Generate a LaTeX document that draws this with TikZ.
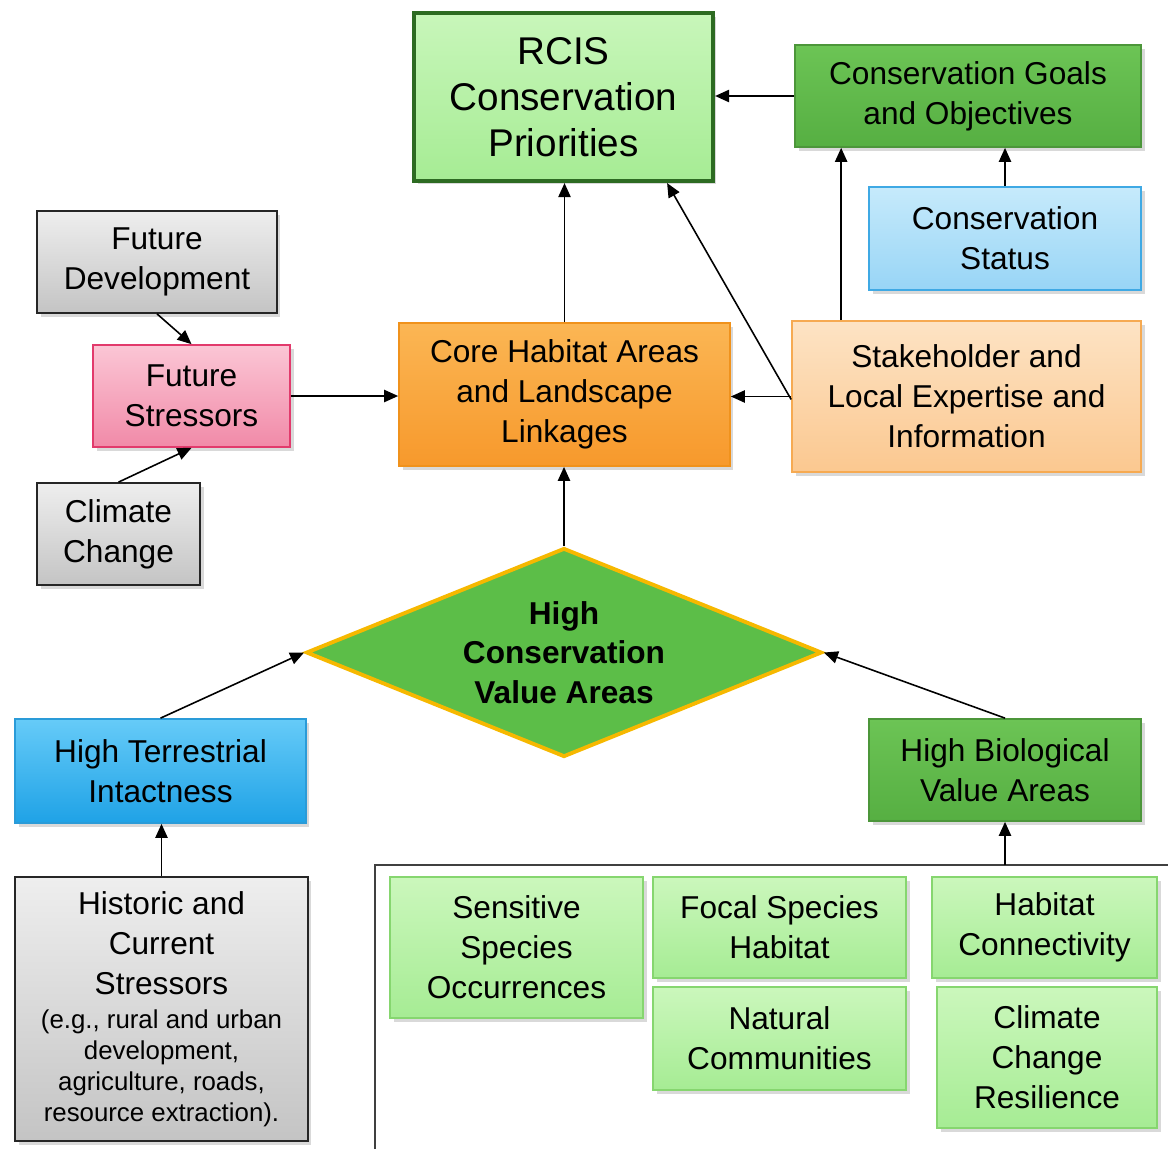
\documentclass[tikz,border=0pt]{standalone}
\usepackage{fontspec}
\setmainfont{Liberation Sans}
\usetikzlibrary{arrows.meta,positioning,shapes.geometric,shadows}

\definecolor{rcisTop}{HTML}{C8F6BA}
\definecolor{rcisBot}{HTML}{A6EC94}
\definecolor{rcisLine}{HTML}{2D6B22}
\definecolor{goalTop}{HTML}{6CC455}
\definecolor{goalBot}{HTML}{56AF42}
\definecolor{goalLine}{HTML}{4C963A}
\definecolor{statTop}{HTML}{C6EAFB}
\definecolor{statBot}{HTML}{98D5F6}
\definecolor{statLine}{HTML}{3FA9E4}
\definecolor{greyTop}{HTML}{EEEEEE}
\definecolor{greyBot}{HTML}{C4C4C4}
\definecolor{pinkTop}{HTML}{FBC6D5}
\definecolor{pinkBot}{HTML}{F18AA8}
\definecolor{pinkLine}{HTML}{E23A6C}
\definecolor{coreTop}{HTML}{FBB654}
\definecolor{coreBot}{HTML}{F7992C}
\definecolor{coreLine}{HTML}{F0921C}
\definecolor{stakeTop}{HTML}{FDE3C4}
\definecolor{stakeBot}{HTML}{FBC890}
\definecolor{stakeLine}{HTML}{F6AA52}
\definecolor{cvaFill}{HTML}{5CBE48}
\definecolor{cvaLine}{HTML}{F6B800}
\definecolor{htiTop}{HTML}{66CBF8}
\definecolor{htiBot}{HTML}{1FA2E6}
\definecolor{htiLine}{HTML}{2A9BD8}
\definecolor{leafTop}{HTML}{CBF7BC}
\definecolor{leafBot}{HTML}{A6EC94}
\definecolor{leafLine}{HTML}{86D66F}

\begin{document}
\begin{tikzpicture}[
    x=0.02cm, y=-0.02cm,
    box/.style={rectangle, draw, line width=1pt, align=center, inner sep=2pt,
        font=\fontsize{18}{22.8}\selectfont,
        drop shadow={opacity=0.3, shadow xshift=2pt, shadow yshift=-2pt}},
    greybox/.style={box, draw=black!85, top color=greyTop, bottom color=greyBot},
    darkgreen/.style={box, draw=goalLine, top color=goalTop, bottom color=goalBot},
    leaf/.style={box, draw=leafLine, top color=leafTop, bottom color=leafBot},
    arrow/.style={-{Triangle[length=8pt, width=7pt]}, line width=0.9pt}
]
\useasboundingbox (0,0) rectangle (1168,1149);

% Top row
\node[box, line width=2.4pt, draw=rcisLine, top color=rcisTop, bottom color=rcisBot,
      minimum width=5.98cm, minimum height=3.36cm,
      font=\fontsize{22}{26.2}\selectfont] (rcis) at (563.5,97)
    {RCIS\\Conservation\\Priorities};

\node[darkgreen, minimum width=6.92cm, minimum height=2.04cm] (goals) at (968,96)
    {Conservation Goals\\and Objectives};

\node[box, draw=statLine, top color=statTop, bottom color=statBot,
      minimum width=5.44cm, minimum height=2.06cm] (status) at (1005,238.5)
    {Conservation\\Status};

% Future stressors
\node[greybox, minimum width=4.8cm, minimum height=2.04cm] (futdev) at (157,262)
    {Future\\Development};

\node[box, draw=pinkLine, top color=pinkTop, bottom color=pinkBot,
      minimum width=3.94cm, minimum height=2.04cm] (futstr) at (191.5,396)
    {Future\\Stressors};

\node[greybox, minimum width=3.26cm, minimum height=2.04cm] (climate) at (118.5,534)
    {Climate\\Change};

% Middle row
\node[box, draw=coreLine, top color=coreTop, bottom color=coreBot,
      minimum width=6.62cm, minimum height=2.86cm] (core) at (564.5,394.5)
    {Core Habitat Areas\\and Landscape\\Linkages};

\node[box, draw=stakeLine, top color=stakeTop, bottom color=stakeBot,
      minimum width=6.98cm, minimum height=3.02cm] (stake) at (966.5,396.5)
    {Stakeholder and\\Local Expertise and\\Information};

\node[diamond, draw=cvaLine, line width=2.2pt, fill=cvaFill, aspect=2.47, inner sep=0pt,
      minimum width=10.32cm, minimum height=4.18cm, align=center,
      font=\bfseries\fontsize{18}{22.4}\selectfont] (cva) at (564,652.5)
    {High\\Conservation\\Value Areas};

% Lower row
\node[box, draw=htiLine, top color=htiTop, bottom color=htiBot,
      minimum width=5.82cm, minimum height=2.08cm] (hti) at (160.5,771)
    {High Terrestrial\\Intactness};

\node[darkgreen, minimum width=5.44cm, minimum height=2.04cm] (hbva) at (1005,770)
    {High Biological\\Value Areas};

\node[greybox, align=flush center, minimum width=5.86cm, minimum height=5.28cm, text width=5.6cm] (hist) at (161.5,1009)
    {Historic and\\Current\\Stressors\par\vspace{2pt}
     \fontsize{14.7}{17.6}\selectfont (e.g., rural and urban\\development,\\agriculture, roads,\\resource extraction).\par};

% Biological value inputs
\coordinate (frame) at (375,865);
\draw[line width=0.7pt, draw=black!75] (375,1149) -- (frame) -- (1168,865);

\node[leaf, minimum width=5.06cm, minimum height=2.82cm] (sens) at (516.5,947.5)
    {Sensitive\\Species\\Occurrences};
\node[leaf, minimum width=5.06cm, minimum height=2.02cm] (focal) at (779.5,927.5)
    {Focal Species\\Habitat};
\node[leaf, minimum width=5.06cm, minimum height=2.06cm] (natural) at (779.5,1038.5)
    {Natural\\Communities};
\node[leaf, minimum width=4.5cm, minimum height=2.02cm] (connect) at (1044.5,927.5)
    {Habitat\\Connectivity};
\node[leaf, minimum width=4.4cm, minimum height=2.82cm] (resil) at (1047,1057.5)
    {Climate\\Change\\Resilience};

% Arrows
\draw[arrow] (goals.west) -- (goals.west -| rcis.east);
\draw[arrow] (status.north) -- (status.north |- goals.south);
\draw[arrow] ([xshift=1cm]stake.north west) -- ([xshift=1cm]stake.north west |- goals.south);
\draw[arrow] ([yshift=-0.06cm]stake.west) -- ([xshift=-0.96cm]rcis.south east);
\draw[arrow] (stake.west) -- (stake.west -| core.east);
\draw[arrow] (core.north) -- (core.north |- rcis.south);
\draw[arrow] (futstr.east) -- (futstr.east -| core.west);
\draw[arrow] (futdev.south) -- (futstr.north);
\draw[arrow] (climate.north) -- (futstr.south);
\draw[arrow] (cva.north) -- (cva.north |- core.south);
\draw[arrow] (hti.north) -- (cva.west);
\draw[arrow] (hbva.north) -- (cva.east);
\draw[arrow] (hist.north) -- (hist.north |- hti.south);
\draw[arrow] (hbva.south |- frame) -- (hbva.south);

\end{tikzpicture}
\end{document}
